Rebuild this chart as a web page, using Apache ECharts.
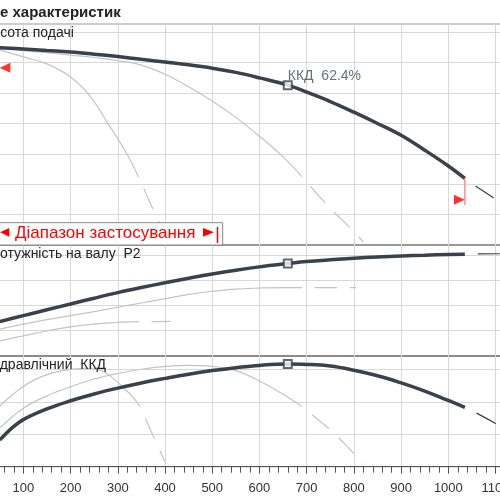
<!DOCTYPE html>
<html>
<head>
<meta charset="utf-8">
<script src="https://cdn.jsdelivr.net/npm/echarts@6/dist/echarts.min.js"></script>
<style>
  html, body { margin: 0; padding: 0; background: #fff; }
  #main { width: 500px; height: 500px; }
</style>
</head>
<body>
<div id="main"></div>
<script>
// flow axis, shared by the three panels
const flowMin = 0
const flowMax = 1200
const flowStep = 100

// висота подачі (grid units)
const headMain = [[50,6.49],[100,6.45],[150,6.4],[200,6.35],[250,6.28],[300,6.2],[350,6.11],[400,6.02],[450,5.93],[500,5.82],[550,5.68],[600,5.5],[660,5.26],[700,5.03],[750,4.72],[800,4.37],[850,4.0],[900,3.61],[950,3.12],[1000,2.6],[1035,2.19]]
const headMainExt = [[1035,2.19],[1060,1.92],[1100,1.5],[1150,0.95]]
const headLow = [[50,6.42],[100,6.19],[150,5.96],[200,5.53],[240,4.92],[280,3.98],[320,2.98],[344,2.24]]
const headLowExt = [[344,2.24],[400,0.3]]
const headMid = [[50,6.46],[100,6.4],[150,6.33],[200,6.25],[250,6.17],[300,6.07],[350,5.92],[400,5.62],[450,5.21],[500,4.74],[550,4.2],[600,3.58],[650,2.9],[690,2.25]]
const headMidExt = [[690,2.25],[740,1.37],[800,0.44],[820,0.1]]

// потужність на валу P2
const powerMain = [[50,1.36],[100,1.6],[150,1.83],[200,2.06],[250,2.29],[300,2.51],[350,2.71],[400,2.9],[450,3.08],[500,3.25],[550,3.4],[600,3.53],[660,3.66],[700,3.74],[750,3.81],[800,3.87],[850,3.92],[900,3.96],[950,3.99],[1000,4.02],[1035,4.03]]
const powerMainExt = [[1035,4.03],[1100,4.05],[1150,4.05]]
const powerLow = [[50,0.6],[100,0.8],[150,0.99],[200,1.15],[250,1.26],[300,1.33],[344,1.36]]
const powerLowExt = [[344,1.36],[412,1.37]]
const powerMid = [[50,1.06],[100,1.26],[150,1.44],[200,1.6],[250,1.76],[300,1.93],[350,2.1],[400,2.27],[450,2.44],[500,2.56],[550,2.65],[600,2.69],[650,2.71],[690,2.71]]
const powerMidExt = [[690,2.71],[805,2.71]]

// гідравлічний ККД
const effMain = [[50,0.82],[75,1.18],[100,1.45],[150,1.78],[200,2.03],[250,2.24],[300,2.42],[350,2.58],[400,2.72],[450,2.85],[500,2.96],[550,3.05],[600,3.12],[660,3.16],[700,3.15],[750,3.1],[800,2.97],[850,2.8],[900,2.58],[950,2.33],[1000,2.04],[1035,1.83]]
const effMainExt = [[1035,1.83],[1060,1.65],[1100,1.33],[1150,0.9]]
const effLow = [[50,1.87],[85,2.31],[120,2.65],[160,2.88],[200,3.0],[245,3.03],[270,2.93],[290,2.72],[310,2.46],[333,2.13],[347,1.85]]
const effLowExt = [[347,1.85],[400,0.15]]
const effMid = [[50,1.19],[100,1.8],[150,2.18],[200,2.46],[250,2.7],[300,2.87],[350,3.0],[400,3.09],[450,3.12],[500,3.09],[550,2.96],[600,2.64],[650,2.23],[690,1.85]]
const effMidExt = [[690,1.85],[750,1.13],[800,0.41],[820,0.1]]

// робоча точка
const dutyFlow = 660
const dutyHead = 5.26
const dutyPower = 3.66
const dutyEff = 3.16
const dutyLabel = 'ККД  62.4%'

// діапазон застосування
const rangeLineLeft = [[49,6.49],[49,5.5]]
const rangeLineRight = [[1035,2.19],[1035,1.32]]
const rangeArrowLeft = [[50,5.83]]
const rangeArrowRight = [[1035,1.49]]

const dark = '#39424c'
const grey = '#c4c4c4'
const red = '#ff0000'
const font = 'Liberation Sans, Arial, sans-serif'

const chart = echarts.init(document.getElementById('main'), null, { renderer: 'canvas' })

function curve(i, data, color, width, dashed) {
  return {
    type: 'line', xAxisIndex: i, yAxisIndex: i, data,
    smooth: 0.4, showSymbol: false, silent: true, z: width > 2 ? 4 : 3,
    lineStyle: dashed
      ? { color, width, type: [22, 13], dashOffset: 22 }
      : { color, width, cap: 'butt' }
  }
}

function duty(i, y, label) {
  return {
    type: 'scatter', xAxisIndex: i, yAxisIndex: i, data: [[dutyFlow, y]],
    symbol: 'rect', symbolSize: 8, z: 6, silent: true,
    itemStyle: { color: '#fff', borderColor: dark, borderWidth: 2 },
    label: label ? {
      show: true, formatter: label, position: [5, -11],
      color: '#404a55', fontSize: 14, fontFamily: font
    } : { show: false }
  }
}

function yAxis(i, max) {
  return {
    type: 'value', gridIndex: i, min: 0, max, interval: 1,
    axisLine: { show: false }, axisTick: { show: false }, axisLabel: { show: false },
    splitLine: { lineStyle: { color: '#d8d8d8' }, showMinLine: false, showMaxLine: false }
  }
}

function xAxis(i, bottom) {
  return {
    type: 'value', gridIndex: i, min: flowMin, max: flowMax, interval: flowStep,
    axisLine: { show: bottom, lineStyle: { color: '#555' } },
    axisTick: { show: bottom, length: 7, lineStyle: { color: '#555' } },
    minorTick: { show: bottom, splitNumber: 5, length: 6, lineStyle: { color: '#555' } },
    axisLabel: { show: bottom, fontSize: 13, color: '#333', margin: 15, fontFamily: font,
      formatter: v => String(v) },
    splitLine: { show: true, lineStyle: { color: '#d8d8d8' } }
  }
}

const gridBox = {
  show: true, left: -23.9, right: -42.8, borderColor: '#666', borderWidth: 1,
  containLabel: false, outerBoundsMode: 'none'
}

const option = {
  animation: false,
  grid: [
    { ...gridBox, top: 24, height: 221, borderColor: '#999' },
    { ...gridBox, top: 245, height: 111 },
    { ...gridBox, top: 356, height: 110.7 }
  ],
  xAxis: [xAxis(0, false), xAxis(1, false), xAxis(2, true)],
  yAxis: [yAxis(0, 7.273), yAxis(1, 4.396), yAxis(2, 3.409)],
  series: [
    curve(0, headLow, grey, 1.2), curve(0, headLowExt, grey, 1.2, true),
    curve(0, headMid, grey, 1.2), curve(0, headMidExt, grey, 1.2, true),
    curve(0, headMain, dark, 3.5), curve(0, headMainExt, dark, 1.2, true),
    curve(1, powerLow, grey, 1.2), curve(1, powerLowExt, grey, 1.2, true),
    curve(1, powerMid, grey, 1.2), curve(1, powerMidExt, grey, 1.2, true),
    curve(1, powerMain, dark, 3.5), curve(1, powerMainExt, dark, 1.2, true),
    curve(2, effLow, grey, 1.2), curve(2, effLowExt, grey, 1.2, true),
    curve(2, effMid, grey, 1.2), curve(2, effMidExt, grey, 1.2, true),
    curve(2, effMain, dark, 3.5), curve(2, effMainExt, dark, 1.2, true),
    duty(0, dutyHead, dutyLabel), duty(1, dutyPower), duty(2, dutyEff),
    // межі діапазону
    { type: 'line', data: rangeLineLeft, showSymbol: false, silent: true, z: 5,
      lineStyle: { color: '#ff8a8a', width: 1.5 } },
    { type: 'line', data: rangeLineRight, showSymbol: false, silent: true, z: 5,
      lineStyle: { color: '#ff8a8a', width: 1.5 } },
    { type: 'scatter', data: rangeArrowLeft, symbol: 'triangle', symbolSize: [10, 10.7],
      symbolRotate: 90, symbolOffset: [5.3, 0], itemStyle: { color: red }, silent: true, z: 5 },
    { type: 'scatter', data: rangeArrowRight, symbol: 'triangle', symbolSize: [10, 10.7],
      symbolRotate: -90, symbolOffset: [-5.5, 0], itemStyle: { color: red }, silent: true, z: 5 }
  ],
  graphic: [
    { type: 'text', left: 0, top: 5, z: 100,
      style: { text: 'е характеристик', font: 'bold 15px ' + font, fill: '#222' } },
    { type: 'text', x: -17, y: 33, z: 100,
      style: { text: 'Висота подачі', font: '14px ' + font, fill: '#222', verticalAlign: 'middle' } },
    { type: 'text', x: -10, y: 254, z: 100,
      style: { text: 'Потужність на валу  P2', font: '14px ' + font, fill: '#222', verticalAlign: 'middle' } },
    { type: 'text', x: -11, y: 365, z: 100,
      style: { text: 'Гідравлічний  ККД', font: '14px ' + font, fill: '#222', verticalAlign: 'middle' } },
    // рамка "Діапазон застосування"
    { type: 'rect', z: 100, shape: { x: -5, y: 222.7, width: 227.7, height: 22.3 },
      style: { fill: '#fff', stroke: '#888', lineWidth: 1 } },
    { type: 'polygon', z: 101, shape: { points: [[9.3, 228], [0, 232.3], [9.3, 236.7]] },
      style: { fill: red } },
    { type: 'text', x: 15, y: 233, z: 101,
      style: { text: 'Діапазон застосування', font: '17px ' + font, fill: red, verticalAlign: 'middle' } },
    { type: 'polygon', z: 101, shape: { points: [[203, 228], [214, 232.3], [203, 236.7]] },
      style: { fill: red } },
    { type: 'line', z: 101, shape: { x1: 217.5, y1: 227, x2: 217.5, y2: 243 },
      style: { stroke: red, lineWidth: 1.5 } }
  ]
}

chart.setOption(option)
</script>
</body>
</html>
